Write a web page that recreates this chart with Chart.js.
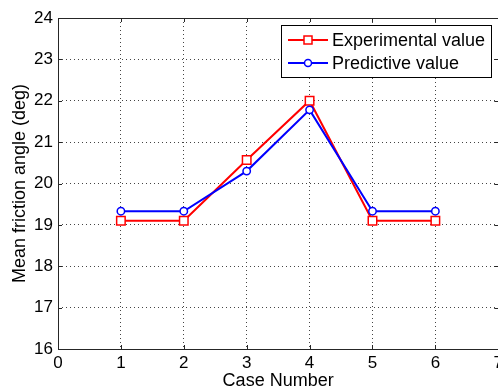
<!DOCTYPE html>
<html>
<head>
<meta charset="utf-8">
<script src="https://cdn.jsdelivr.net/npm/chart.js@4.4.0/dist/chart.umd.min.js"></script>
<style>
  html, body { margin: 0; padding: 0; background: #fff; overflow: hidden; }
  #wrap { width: 507px; height: 392px; position: relative; }
</style>
</head>
<body>
<div id="wrap"><canvas id="lineChart"></canvas></div>
<script>
var caseNumbers = [1, 2, 3, 4, 5, 6];
var experimental = [19.1, 19.1, 20.57, 22.0, 19.1, 19.1];
var predictive = [19.33, 19.33, 20.3, 21.78, 19.33, 19.33];
var xTicks = [0, 1, 2, 3, 4, 5, 6, 7];
var yTicks = [16, 17, 18, 19, 20, 21, 22, 23, 24];

var fontFamily = "'Liberation Sans', Arial, Helvetica, sans-serif";

function toPoints(vals) {
    return caseNumbers.map(function(c, i) { return { x: c, y: vals[i] }; });
}

// box around the plot, inward tick marks and the legend inside the axes
var matlabAxes = {
    id: 'matlabAxes',
    afterDraw: function(chart) {
        var ctx = chart.ctx;
        var a = chart.chartArea;
        var xs = chart.scales.x, ys = chart.scales.y;
        ctx.save();
        ctx.strokeStyle = '#262626';
        ctx.lineWidth = 1;
        ctx.strokeRect(Math.round(a.left) + 0.5, Math.round(a.top) + 0.5,
            Math.round(a.right - a.left), Math.round(a.bottom - a.top));
        var t = 4;
        ctx.beginPath();
        xTicks.forEach(function(v) {
            var px = Math.round(xs.getPixelForValue(v)) + 0.5;
            ctx.moveTo(px, a.bottom); ctx.lineTo(px, a.bottom - t);
            ctx.moveTo(px, a.top); ctx.lineTo(px, a.top + t);
        });
        yTicks.forEach(function(v) {
            var py = Math.round(ys.getPixelForValue(v)) + 0.5;
            ctx.moveTo(a.left, py); ctx.lineTo(a.left + t, py);
            ctx.moveTo(a.right, py); ctx.lineTo(a.right - t, py);
        });
        ctx.stroke();

        // legend
        var bx = Math.round(a.right) - 217, by = Math.round(a.top) + 7, bw = 210, bh = 52;
        ctx.fillStyle = '#fff';
        ctx.fillRect(bx, by, bw, bh);
        ctx.strokeStyle = '#000';
        ctx.strokeRect(bx + 0.5, by + 0.5, bw, bh);
        ctx.font = '18px ' + fontFamily;
        ctx.textBaseline = 'middle';
        chart.data.datasets.forEach(function(ds) {
            var ly = by + 15 + ds.legendRow * 23;
            ctx.strokeStyle = ds.borderColor;
            ctx.lineWidth = 2;
            ctx.beginPath();
            ctx.moveTo(bx + 7, ly); ctx.lineTo(bx + 47, ly);
            ctx.stroke();
            ctx.lineWidth = 1.5;
            ctx.fillStyle = '#fff';
            if (ds.pointStyle === 'rect') {
                ctx.fillRect(bx + 23, ly - 4, 8, 8);
                ctx.strokeRect(bx + 23, ly - 4, 8, 8);
            } else {
                ctx.beginPath();
                ctx.arc(bx + 27, ly, 3.5, 0, Math.PI * 2);
                ctx.fill();
                ctx.stroke();
            }
            ctx.fillStyle = '#000';
            ctx.fillText(ds.label, bx + 51, ly + 1);
        });
        ctx.restore();
    }
};

var ctx = document.getElementById('lineChart');
var lineChart = new Chart(ctx, {
    type: 'line',
    data: {
        datasets: [
            {
                label: 'Experimental value',
                data: toPoints(experimental),
                borderColor: '#ff0000',
                backgroundColor: '#ffffff',
                borderWidth: 2,
                pointStyle: 'rect',
                pointRadius: 6,
                pointBorderWidth: 1.5,
                legendRow: 0,
                order: 1
            },
            {
                label: 'Predictive value',
                data: toPoints(predictive),
                borderColor: '#0000ff',
                backgroundColor: '#ffffff',
                borderWidth: 2,
                pointStyle: 'circle',
                pointRadius: 3.7,
                pointBorderWidth: 1.5,
                legendRow: 1,
                order: 0
            }
        ]
    },
    options: {
        responsive: true,
        maintainAspectRatio: false,
        animation: false,
        layout: { padding: { top: 18, right: 0, left: 0, bottom: 0 } },
        plugins: {
            legend: { display: false },
            tooltip: { enabled: false }
        },
        scales: {
            x: {
                type: 'linear',
                min: 0, max: 7,
                afterBuildTicks: function(s) { s.ticks = xTicks.map(function(v) { return { value: v }; }); },
                afterFit: function(s) { s.height = 43; },
                grid: { color: '#444', lineWidth: 1, drawTicks: false },
                border: { display: false, dash: [1, 3] },
                ticks: { color: '#000', font: { size: 17, family: fontFamily }, padding: 4, maxRotation: 0 },
                title: { display: true, text: 'Case Number', color: '#000', font: { size: 18, family: fontFamily }, padding: { top: 2, bottom: 0 } }
            },
            y: {
                min: 16, max: 24,
                afterBuildTicks: function(s) { s.ticks = yTicks.map(function(v) { return { value: v }; }); },
                afterFit: function(s) { s.width = 58; },
                grid: { color: '#444', lineWidth: 1, drawTicks: false },
                border: { display: false, dash: [1, 3] },
                ticks: { color: '#000', font: { size: 17, family: fontFamily }, padding: 5 },
                title: { display: true, text: 'Mean friction angle (deg)', color: '#000', font: { size: 18, family: fontFamily }, padding: { top: 9, bottom: 0 } }
            }
        }
    },
    plugins: [matlabAxes]
});
</script>
</body>
</html>
